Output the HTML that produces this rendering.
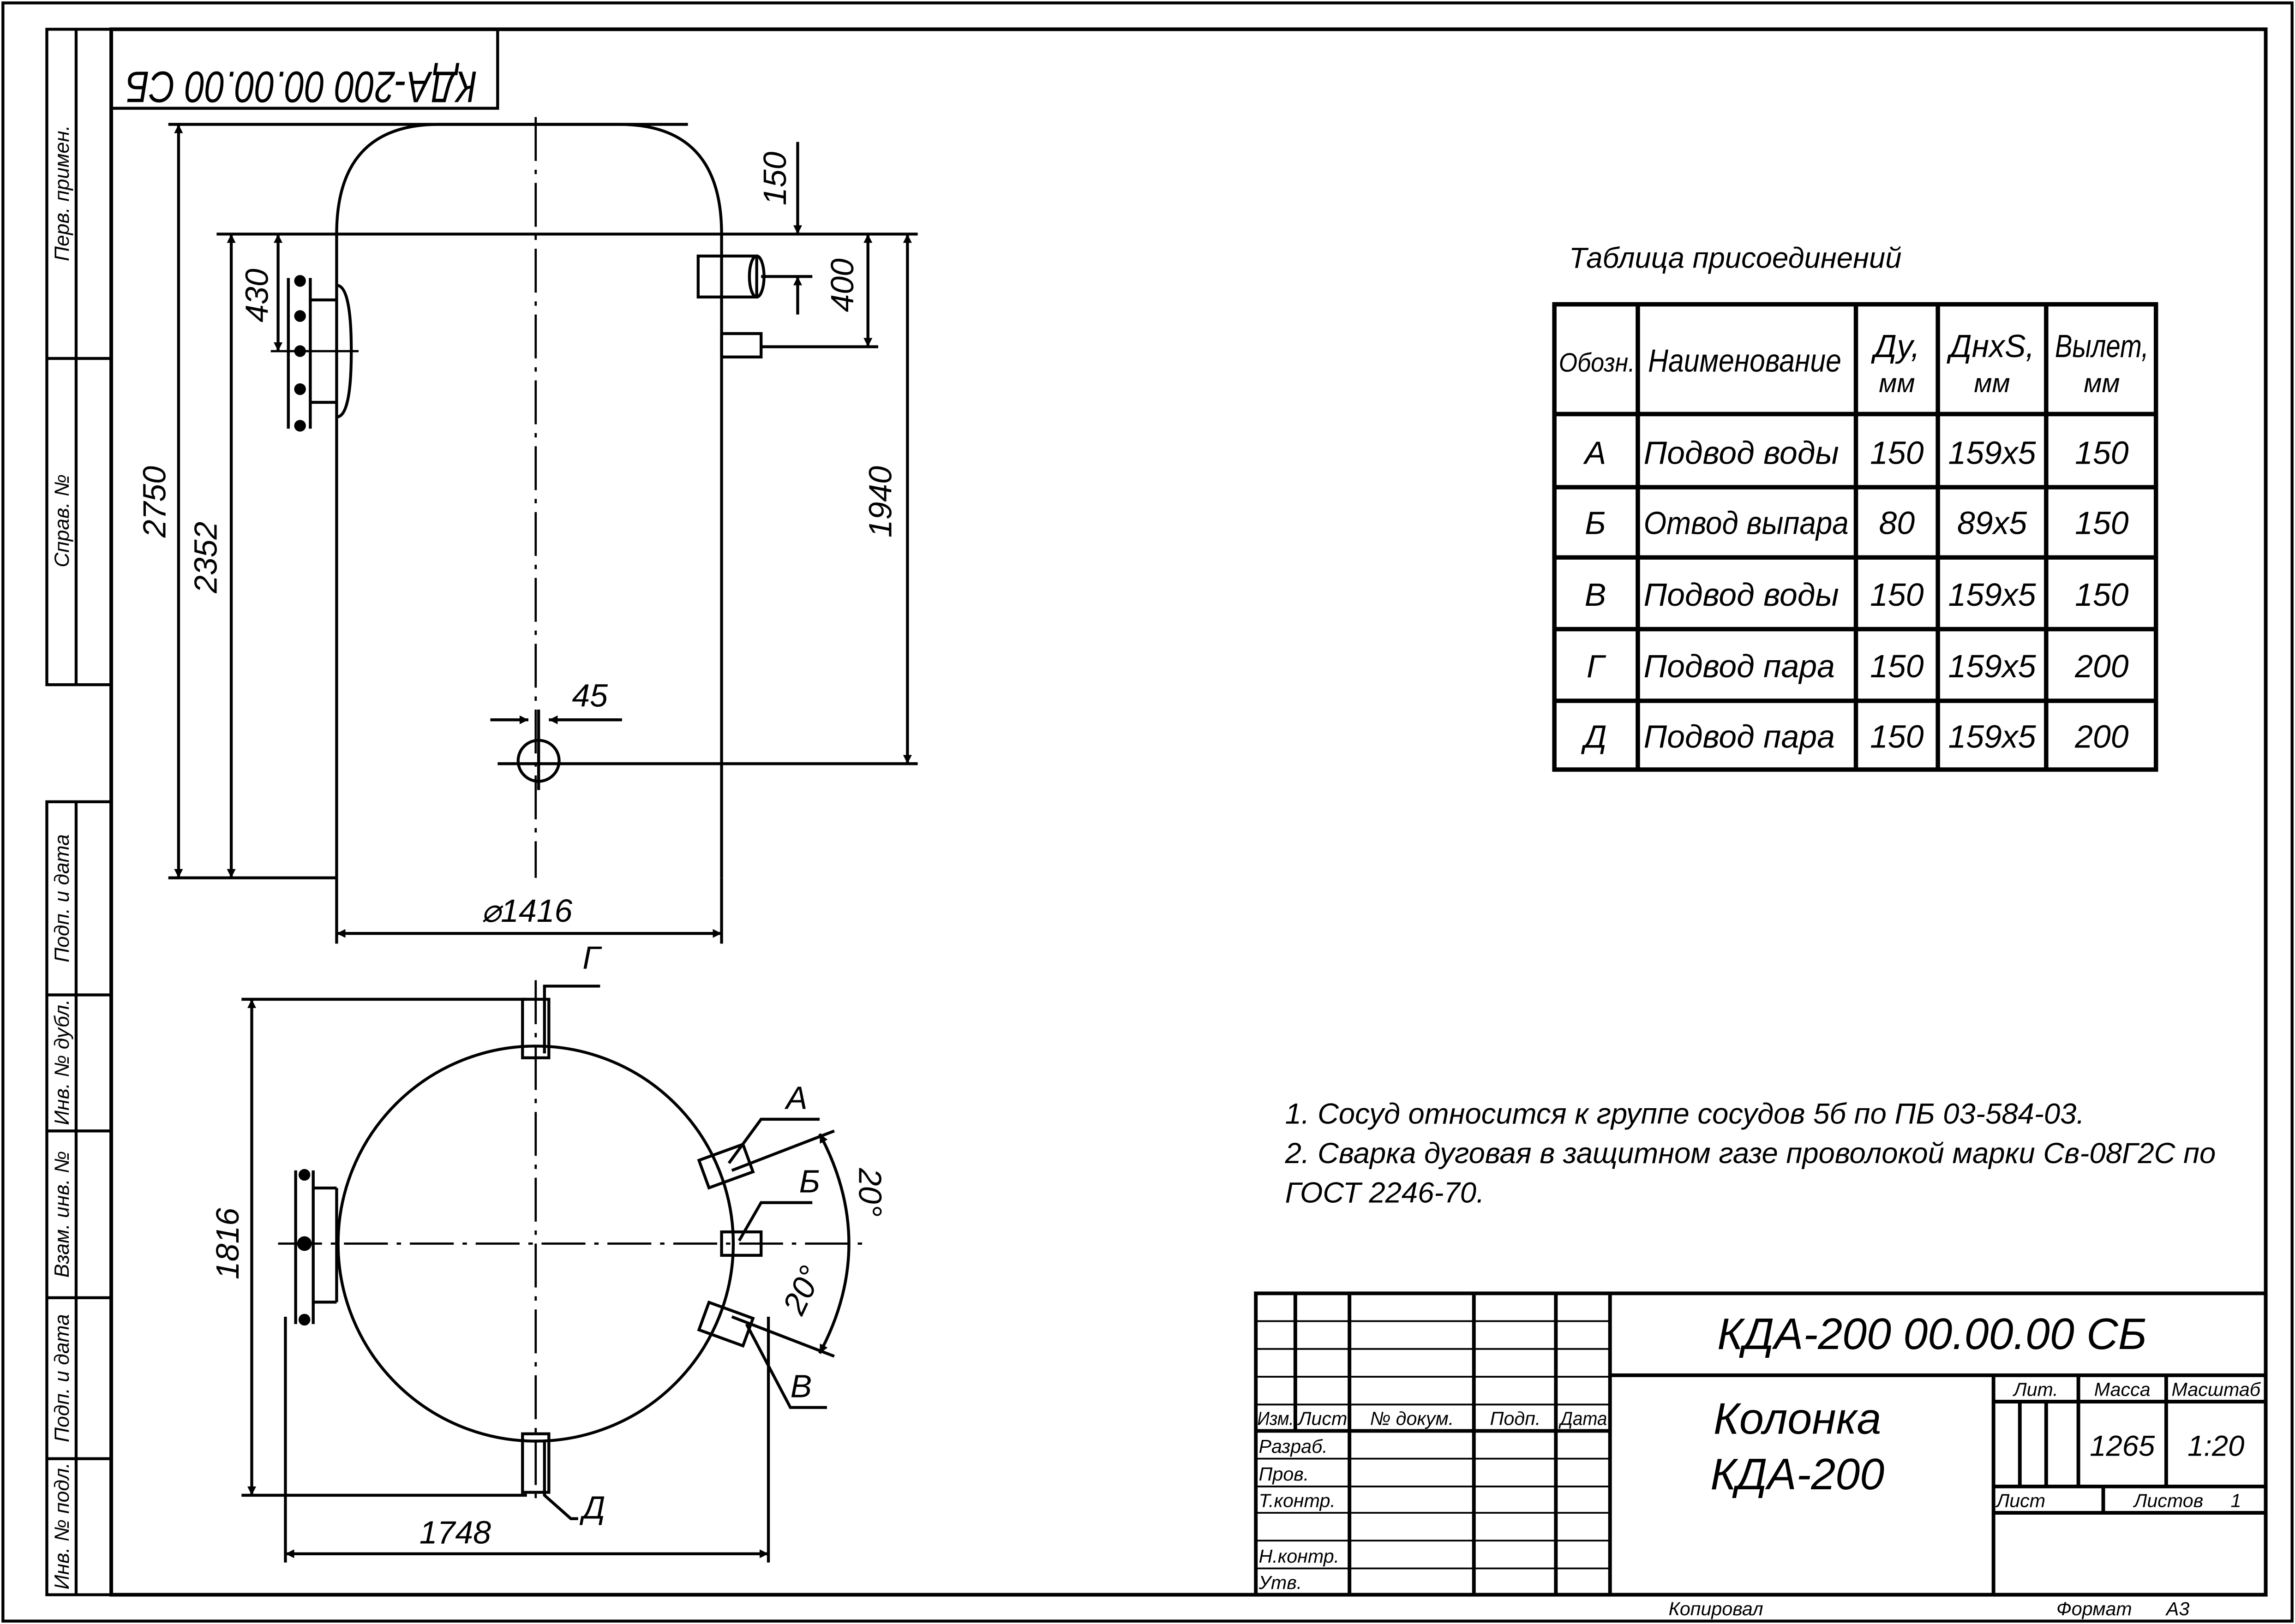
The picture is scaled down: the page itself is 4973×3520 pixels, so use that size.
<!DOCTYPE html>
<html><head><meta charset="utf-8"><style>
html,body{margin:0;padding:0;background:#fff}
svg{display:block}
text{font-family:"Liberation Sans",sans-serif;font-style:italic;fill:#000}
</style></head><body>
<svg width="4973" height="3520" viewBox="0 0 1568 1110" preserveAspectRatio="none" xmlns="http://www.w3.org/2000/svg">
<defs>
<marker id="a" viewBox="0 0 10 10" refX="10" refY="5" markerWidth="10" markerHeight="6" orient="auto-start-reverse" markerUnits="userSpaceOnUse"><path d="M0,0L10,5L0,10z" fill="#000"/></marker>
</defs>
<g fill="none" stroke="#000">
<rect x="2" y="2" width="1564" height="1106" stroke-width="2"/>
<rect x="76" y="20" width="1472" height="1070" stroke-width="2.5"/>
<g stroke-width="2">
<rect x="32" y="20" width="44" height="448"/><line x1="52" y1="20" x2="52" y2="468"/><line x1="32" y1="245" x2="76" y2="245"/>
<rect x="32" y="548" width="44" height="542"/><line x1="52" y1="548" x2="52" y2="1090"/>
<line x1="32" y1="680" x2="76" y2="680"/><line x1="32" y1="773" x2="76" y2="773"/><line x1="32" y1="887" x2="76" y2="887"/><line x1="32" y1="997" x2="76" y2="997"/>
<rect x="76" y="20" width="264" height="54"/>
</g>
<g stroke-width="2">
<path d="M230,600V160Q230,85 300,85H423Q493,85 493,160V600"/>
<line x1="148" y1="160" x2="627" y2="160"/>
<line x1="115" y1="85" x2="470" y2="85"/>
<line x1="115" y1="600" x2="230" y2="600"/>
<line x1="340" y1="522" x2="627" y2="522"/>
<line x1="230" y1="600" x2="230" y2="645"/><line x1="493" y1="600" x2="493" y2="645"/>
<circle cx="368" cy="520" r="14"/>
<path d="M230,195Q240,195 240,240Q240,285 230,285"/>
<line x1="197" y1="190" x2="197" y2="293"/><line x1="212" y1="190" x2="212" y2="293"/>
<line x1="212" y1="205" x2="230" y2="205"/><line x1="212" y1="275" x2="230" y2="275"/>
<rect x="477" y="175" width="40" height="28"/><ellipse cx="517" cy="189" rx="5" ry="14"/>
<rect x="493" y="228" width="27" height="16"/>
</g>
<g fill="#000" stroke="none"><circle cx="205" cy="192" r="4"/><circle cx="205" cy="216" r="4"/><circle cx="205" cy="240" r="4"/><circle cx="205" cy="266" r="4"/><circle cx="205" cy="291" r="4"/></g>
<line x1="185" y1="240" x2="245" y2="240" stroke-width="1.5"/>
<line x1="366" y1="80" x2="366" y2="600" stroke-width="1.5" stroke-dasharray="30,6,3,6"/>
<g stroke-width="2">
<line x1="122" y1="85" x2="122" y2="600" marker-start="url(#a)" marker-end="url(#a)"/>
<line x1="158" y1="160" x2="158" y2="600" marker-start="url(#a)" marker-end="url(#a)"/>
<line x1="190" y1="160" x2="190" y2="240" marker-start="url(#a)" marker-end="url(#a)"/>
<line x1="620" y1="160" x2="620" y2="522" marker-start="url(#a)" marker-end="url(#a)"/>
<line x1="593" y1="160" x2="593" y2="237" marker-start="url(#a)" marker-end="url(#a)"/>
<line x1="545" y1="97" x2="545" y2="160" marker-end="url(#a)"/>
<line x1="545" y1="215" x2="545" y2="189" marker-end="url(#a)"/>
<line x1="520" y1="189" x2="555" y2="189"/>
<line x1="520" y1="237" x2="600" y2="237"/>
<line x1="230" y1="638" x2="493" y2="638" marker-start="url(#a)" marker-end="url(#a)"/>
<line x1="335" y1="492" x2="361" y2="492" marker-end="url(#a)"/>
<line x1="425" y1="492" x2="375" y2="492" marker-end="url(#a)"/>
<line x1="368" y1="485" x2="368" y2="540"/>
</g>
<g stroke-width="2">
<circle cx="366" cy="850" r="135"/>
<line x1="165" y1="683" x2="360" y2="683"/><line x1="165" y1="1022" x2="360" y2="1022"/>
<line x1="172" y1="683" x2="172" y2="1022" marker-start="url(#a)" marker-end="url(#a)"/>
<line x1="195" y1="1062" x2="525" y2="1062" marker-start="url(#a)" marker-end="url(#a)"/>
<line x1="195" y1="900" x2="195" y2="1068"/><line x1="525" y1="900" x2="525" y2="1068"/>
<rect x="357" y="683" width="18" height="40"/><rect x="357" y="980" width="18" height="40"/>
<polyline points="372,720 372,674 388,674 410,674"/>
<polyline points="372,985 372,1022 390,1038 395,1038"/>
<rect x="493" y="842" width="27" height="16"/>
<rect x="480" y="787" width="32" height="20" transform="rotate(-20 496 797)"/>
<rect x="480" y="895" width="32" height="20" transform="rotate(20 496 905)"/>
<line x1="500" y1="800" x2="570" y2="773"/><line x1="500" y1="900" x2="570" y2="927"/>
<polyline points="498,795 520,765 560,765"/>
<polyline points="505,848 520,822 555,822"/>
<polyline points="510,905 540,962 565,962"/>
<path d="M560,775Q600,850 560,925" marker-start="url(#a)" marker-end="url(#a)"/>
<line x1="230" y1="812" x2="230" y2="890"/>
<line x1="202" y1="800" x2="202" y2="905"/><line x1="214" y1="800" x2="214" y2="905"/>
<line x1="214" y1="812" x2="230" y2="812"/><line x1="214" y1="890" x2="230" y2="890"/>
</g>
<g fill="#000" stroke="none"><circle cx="208" cy="803" r="4"/><circle cx="208" cy="850" r="5"/><circle cx="208" cy="902" r="4"/></g>
<line x1="190" y1="850" x2="590" y2="850" stroke-width="1.5" stroke-dasharray="30,6,3,6"/>
<line x1="366" y1="670" x2="366" y2="1030" stroke-width="1.5" stroke-dasharray="30,6,3,6"/>
<g stroke-width="3">
<rect x="1062" y="208" width="411" height="318"/>
<line x1="1119" y1="208" x2="1119" y2="526"/><line x1="1268" y1="208" x2="1268" y2="526"/><line x1="1324" y1="208" x2="1324" y2="526"/><line x1="1398" y1="208" x2="1398" y2="526"/>
<line x1="1062" y1="283" x2="1473" y2="283"/><line x1="1062" y1="333" x2="1473" y2="333"/><line x1="1062" y1="381" x2="1473" y2="381"/><line x1="1062" y1="430" x2="1473" y2="430"/><line x1="1062" y1="479" x2="1473" y2="479"/>
</g>
<g stroke-width="2.5">
<rect x="858" y="884" width="690" height="206"/>
<line x1="1100" y1="884" x2="1100" y2="1090"/>
<line x1="1100" y1="940" x2="1548" y2="940"/>
<line x1="1362" y1="940" x2="1362" y2="1090"/>
<line x1="1362" y1="958" x2="1548" y2="958"/>
<line x1="1362" y1="1016" x2="1548" y2="1016"/>
<line x1="1420" y1="940" x2="1420" y2="1016"/><line x1="1480" y1="940" x2="1480" y2="1016"/>
<line x1="1437" y1="1016" x2="1437" y2="1034"/>
<line x1="1362" y1="1034" x2="1548" y2="1034"/>
<line x1="1380" y1="958" x2="1380" y2="1016"/><line x1="1398" y1="958" x2="1398" y2="1016"/>
<line x1="885" y1="884" x2="885" y2="978"/><line x1="922" y1="884" x2="922" y2="1090"/><line x1="1007" y1="884" x2="1007" y2="1090"/><line x1="1063" y1="884" x2="1063" y2="1090"/>
<line x1="858" y1="978" x2="1100" y2="978"/>
</g>
<g stroke-width="1.2">
<line x1="858" y1="903" x2="1100" y2="903"/><line x1="858" y1="922" x2="1100" y2="922"/><line x1="858" y1="941" x2="1100" y2="941"/><line x1="858" y1="960" x2="1100" y2="960"/>
<line x1="858" y1="997" x2="1100" y2="997"/><line x1="858" y1="1016" x2="1100" y2="1016"/><line x1="858" y1="1034" x2="1100" y2="1034"/><line x1="858" y1="1053" x2="1100" y2="1053"/><line x1="858" y1="1072" x2="1100" y2="1072"/>
</g>
</g>

<text x="90" y="37" font-size="30" textLength="240" lengthAdjust="spacingAndGlyphs" transform="rotate(180 208 47)" dominant-baseline="middle">КДА-200 00.00.00 СБ</text>
<g font-size="14">
<text transform="translate(47 132) rotate(-90)" text-anchor="middle">Перв. примен.</text>
<text transform="translate(47 356) rotate(-90)" text-anchor="middle">Справ. №</text>
<text transform="translate(47 614) rotate(-90)" text-anchor="middle">Подп. и дата</text>
<text transform="translate(47 726) rotate(-90)" text-anchor="middle">Инв. № дубл.</text>
<text transform="translate(47 830) rotate(-90)" text-anchor="middle">Взам. инв. №</text>
<text transform="translate(47 942) rotate(-90)" text-anchor="middle">Подп. и дата</text>
<text transform="translate(47 1043) rotate(-90)" text-anchor="middle">Инв. № подл.</text>
</g>
<g font-size="22">
<text transform="translate(113 343) rotate(-90)" text-anchor="middle">2750</text>
<text transform="translate(148 381) rotate(-90)" text-anchor="middle">2352</text>
<text transform="translate(183 202) rotate(-90)" text-anchor="middle">430</text>
<text transform="translate(609 343) rotate(-90)" text-anchor="middle">1940</text>
<text transform="translate(583 195) rotate(-90)" text-anchor="middle">400</text>
<text transform="translate(537 122) rotate(-90)" text-anchor="middle">150</text>
<text x="403" y="483" text-anchor="middle">45</text>
<text x="360" y="630" text-anchor="middle">⌀1416</text>
<text transform="translate(163 850) rotate(-90)" text-anchor="middle">1816</text>
<text x="311" y="1055" text-anchor="middle">1748</text>
<text x="398" y="662">Г</text><text x="537" y="758">А</text><text x="546" y="815">Б</text><text x="540" y="955">В</text><text x="398" y="1038">Д</text>
<text transform="translate(587 815) rotate(90)" text-anchor="middle">20°</text>
<text transform="translate(555 885) rotate(-65)" text-anchor="middle">20°</text>
</g>
<text x="1072" y="183" font-size="20">Таблица присоединений</text>
<g font-size="22">
<text x="1065" y="254" font-size="18" textLength="52" lengthAdjust="spacingAndGlyphs">Обозн.</text><text x="1126" y="254" textLength="132" lengthAdjust="spacingAndGlyphs">Наименование</text>
<text x="1296" y="244" text-anchor="middle">Ду,</text><text x="1296" y="268" text-anchor="middle" font-size="18">мм</text>
<text x="1361" y="244" text-anchor="middle" textLength="58" lengthAdjust="spacingAndGlyphs">ДнxS,</text><text x="1361" y="268" text-anchor="middle" font-size="18">мм</text>
<text x="1436" y="244" text-anchor="middle" textLength="64" lengthAdjust="spacingAndGlyphs">Вылет,</text><text x="1436" y="268" text-anchor="middle" font-size="18">мм</text>
<text x="1090" y="317" text-anchor="middle">А</text><text x="1123" y="317">Подвод воды</text><text x="1296" y="317" text-anchor="middle">150</text><text x="1361" y="317" text-anchor="middle">159x5</text><text x="1436" y="317" text-anchor="middle">150</text>
<text x="1090" y="365" text-anchor="middle">Б</text><text x="1123" y="365" textLength="140" lengthAdjust="spacingAndGlyphs">Отвод выпара</text><text x="1296" y="365" text-anchor="middle">80</text><text x="1361" y="365" text-anchor="middle">89x5</text><text x="1436" y="365" text-anchor="middle">150</text>
<text x="1090" y="414" text-anchor="middle">В</text><text x="1123" y="414">Подвод воды</text><text x="1296" y="414" text-anchor="middle">150</text><text x="1361" y="414" text-anchor="middle">159x5</text><text x="1436" y="414" text-anchor="middle">150</text>
<text x="1090" y="463" text-anchor="middle">Г</text><text x="1123" y="463">Подвод пара</text><text x="1296" y="463" text-anchor="middle">150</text><text x="1361" y="463" text-anchor="middle">159x5</text><text x="1436" y="463" text-anchor="middle">200</text>
<text x="1090" y="511" text-anchor="middle">Д</text><text x="1123" y="511">Подвод пара</text><text x="1296" y="511" text-anchor="middle">150</text><text x="1361" y="511" text-anchor="middle">159x5</text><text x="1436" y="511" text-anchor="middle">200</text>
</g>
<g font-size="20">
<text x="878" y="768">1. Сосуд относится к группе сосудов 5б по ПБ 03-584-03.</text>
<text x="878" y="795">2. Сварка дуговая в защитном газе  проволокой марки Св-08Г2С по</text>
<text x="878" y="822">ГОСТ 2246-70.</text>
</g>
<text x="1320" y="922" font-size="30" text-anchor="middle">КДА-200 00.00.00 СБ</text>
<text x="1228" y="980" font-size="30" text-anchor="middle">Колонка</text>
<text x="1228" y="1018" font-size="30" text-anchor="middle">КДА-200</text>
<g font-size="13">
<text x="1391" y="954" text-anchor="middle">Лит.</text><text x="1450" y="954" text-anchor="middle">Масса</text><text x="1514" y="954" text-anchor="middle">Масштаб</text>
<text x="1364" y="1030">Лист</text><text x="1458" y="1030">Листов</text><text x="1524" y="1030">1</text>
<text x="859" y="974" textLength="25" lengthAdjust="spacingAndGlyphs">Изм.</text><text x="887" y="974">Лист</text><text x="936" y="974">№ докум.</text><text x="1018" y="974">Подп.</text><text x="1066" y="974" textLength="32" lengthAdjust="spacingAndGlyphs">Дата</text>
<text x="860" y="993">Разраб.</text><text x="860" y="1012">Пров.</text><text x="860" y="1030">Т.контр.</text><text x="860" y="1068">Н.контр.</text><text x="860" y="1086">Утв.</text>
<text x="1140" y="1104">Копировал</text><text x="1405" y="1104">Формат</text><text x="1480" y="1104">А3</text>
</g>
<text x="1450" y="995" font-size="20" text-anchor="middle">1265</text>
<text x="1514" y="995" font-size="20" text-anchor="middle">1:20</text>
</svg>
</body></html>
